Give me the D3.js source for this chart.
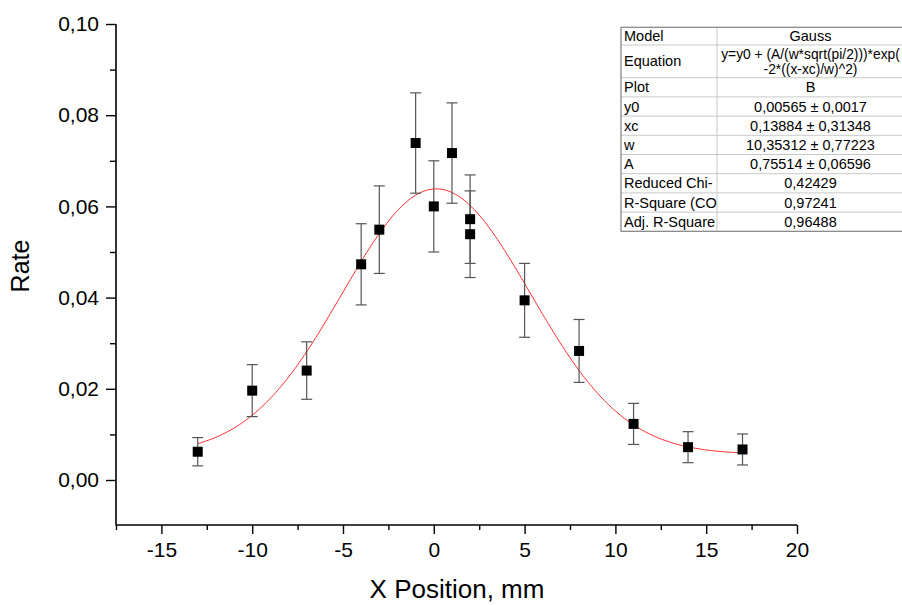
<!DOCTYPE html>
<html>
<head>
<meta charset="utf-8">
<script src="https://cdn.jsdelivr.net/npm/d3@7"></script>
<style>
  body { margin: 0; background: #fff; }
  text { font-family: "Liberation Sans", Arial, sans-serif; }
</style>
</head>
<body>
<svg width="902" height="605"></svg>
<script>
// measured points
var xPos  = [-13, -10, -7, -4, -3, -1, 0, 1, 2, 2, 5, 8, 11, 14, 17];
var rate  = [0.0062, 0.0196, 0.0240, 0.0473, 0.0549, 0.0739, 0.0600, 0.0717, 0.0572, 0.0539, 0.0394, 0.0283, 0.0123, 0.0072, 0.0067];
var err   = [0.0031, 0.0057, 0.0063, 0.0089, 0.0096, 0.0110, 0.0100, 0.0110, 0.0097, 0.0095, 0.0081, 0.0069, 0.0045, 0.0034, 0.0034];

// Gauss fit parameters (from the fit table)
var y0 = 0.00565, xc = 0.13884, w = 10.35312, A = 0.75514;

var xTicks = [-15, -10, -5, 0, 5, 10, 15, 20];
var yTicks = [0, 0.02, 0.04, 0.06, 0.08, 0.10];

var tableNames  = ["Model", "Equation", "Plot", "y0", "xc", "w", "A", "Reduced Chi-", "R-Square (CO", "Adj. R-Square"];
var tableValues = ["Gauss", "y=y0 + (A/(w*sqrt(pi/2)))*exp(\n-2*((x-xc)/w)^2)", "B",
                   "0,00565 \u00b1 0,0017", "0,13884 \u00b1 0,31348", "10,35312 \u00b1 0,77223",
                   "0,75514 \u00b1 0,06596", "0,42429", "0,97241", "0,96488"];

var svg = d3.select("svg");

var x = d3.scaleLinear().domain([-17.5, 20]).range([116, 797]);
var y = d3.scaleLinear().domain([-0.01, 0.10]).range([525.6, 24]);

var comma = d3.formatLocale({decimal: ",", thousands: ".", grouping: [3], currency: ["", ""], minus: "-"});
var fy = comma.format(".2f");
var fx = comma.format("d");

// axes
var xAxis = svg.append("g").attr("transform", "translate(0,525)")
    .call(d3.axisBottom(x).tickValues(xTicks).tickSize(9).tickPadding(8).tickFormat(fx));
var xMinor = svg.append("g").attr("transform", "translate(0,525)")
    .call(d3.axisBottom(x).tickValues(d3.range(-17.5, 20, 5)).tickSize(5).tickFormat(""));
var yAxis = svg.append("g").attr("transform", "translate(116,0)")
    .call(d3.axisLeft(y).tickValues(yTicks).tickSize(10).tickPadding(7).tickFormat(fy));
var yMinor = svg.append("g").attr("transform", "translate(116,0)")
    .call(d3.axisLeft(y).tickValues([0.01, 0.03, 0.05, 0.07, 0.09]).tickSize(6).tickFormat(""));

[xAxis, xMinor, yAxis, yMinor].forEach(function(a) {
  a.select(".domain").attr("stroke", "#000").attr("stroke-width", 1.6);
  a.selectAll(".tick line").attr("stroke", "#000").attr("stroke-width", 1.4);
  a.selectAll("text").attr("fill", "#000").style("font-size", "21px")
    .style("font-family", "'Liberation Sans', Arial, sans-serif");
});
xMinor.select(".domain").remove();
yMinor.select(".domain").remove();
yAxis.select(".domain").attr("d", "M-0,24V525.6");
xAxis.select(".domain").attr("d", "M116,0H797");

// titles
svg.append("text").attr("x", 457).attr("y", 598).attr("text-anchor", "middle")
  .style("font-size", "26px").text("X Position, mm");
svg.append("text").attr("transform", "translate(29,266) rotate(-90)").attr("text-anchor", "middle")
  .style("font-size", "25px").text("Rate");

// fit curve
var fitX = d3.range(-13, 17.001, 0.1);
var line = d3.line()
  .x(function(d) { return x(d); })
  .y(function(d) { return y(y0 + (A / (w * Math.sqrt(Math.PI / 2))) * Math.exp(-2 * Math.pow((d - xc) / w, 2))); });
svg.append("path").datum(fitX).attr("d", line)
  .attr("fill", "none").attr("stroke", "#ff2a2a").attr("stroke-width", 1);

// error bars
var pts = xPos.map(function(d, i) { return {x: d, y: rate[i], e: err[i]}; });
var eb = svg.append("g").attr("stroke", "#555").attr("stroke-width", 1.2);
eb.selectAll(".v").data(pts).enter().append("line")
  .attr("x1", function(d) { return x(d.x); }).attr("x2", function(d) { return x(d.x); })
  .attr("y1", function(d) { return y(d.y + d.e); }).attr("y2", function(d) { return y(d.y - d.e); });
eb.selectAll(".t").data(pts).enter().append("line")
  .attr("x1", function(d) { return x(d.x) - 5.5; }).attr("x2", function(d) { return x(d.x) + 5.5; })
  .attr("y1", function(d) { return y(d.y + d.e); }).attr("y2", function(d) { return y(d.y + d.e); });
eb.selectAll(".b").data(pts).enter().append("line")
  .attr("x1", function(d) { return x(d.x) - 5.5; }).attr("x2", function(d) { return x(d.x) + 5.5; })
  .attr("y1", function(d) { return y(d.y - d.e); }).attr("y2", function(d) { return y(d.y - d.e); });

// markers
svg.append("g").selectAll("rect").data(pts).enter().append("rect")
  .attr("x", function(d) { return x(d.x) - 5; })
  .attr("y", function(d) { return y(d.y) - 5; })
  .attr("width", 10).attr("height", 10).attr("fill", "#000");

// fit table
var rowH = [17.7, 32.7, 19.2, 19.2, 19.2, 19.2, 19.2, 19.2, 19.2, 19.2];
var tx = 621, tDiv = 717, tRight = 906, tTop = 27.3;
var tops = [];
rowH.reduce(function(acc, h) { tops.push(acc); return acc + h; }, tTop);
var tBottom = tops[tops.length - 1] + rowH[rowH.length - 1];

var tbl = svg.append("g");
tbl.append("rect").attr("x", tx).attr("y", tTop).attr("width", tRight - tx).attr("height", tBottom - tTop)
  .attr("fill", "#fff").attr("stroke", "none");
tbl.selectAll(".rl").data(tops.slice(1)).enter().append("line")
  .attr("x1", tx).attr("x2", tRight).attr("y1", function(d) { return d; }).attr("y2", function(d) { return d; })
  .attr("stroke", "#c8c8c8").attr("stroke-width", 1);
tbl.append("line").attr("x1", tDiv).attr("x2", tDiv).attr("y1", tTop).attr("y2", tBottom)
  .attr("stroke", "#c8c8c8");
tbl.append("rect").attr("x", tx).attr("y", tTop).attr("width", tRight - tx).attr("height", tBottom - tTop)
  .attr("fill", "none").attr("stroke", "#808080").attr("stroke-width", 1.2);

tableNames.forEach(function(n, i) {
  var cy = tops[i] + rowH[i] / 2;
  tbl.append("text").attr("x", tx + 3).attr("y", cy + 5).style("font-size", "14.5px").text(n);
  var lines = tableValues[i].split("\n");
  lines.forEach(function(l, j) {
    tbl.append("text").attr("x", (tDiv + tRight) / 2 - 1)
      .attr("y", cy + 5 + (j - (lines.length - 1) / 2) * 15)
      .attr("text-anchor", "middle").style("font-size", lines.length > 1 ? "13.8px" : "14.5px").text(l);
  });
});
</script>
</body>
</html>
